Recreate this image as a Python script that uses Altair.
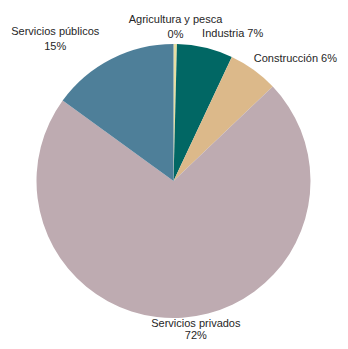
import altair as alt
import pandas as pd
import math

categories = ["Agricultura y pesca", "Industria", "Construcción", "Servicios privados", "Servicios públicos"]
values = [0.4, 6.6, 5.9, 72.1, 15.0]
labels = [["Agricultura y pesca", "0%"], ["Industria 7%"], ["Construcción 6%"], ["Servicios privados", "72%"], ["Servicios públicos", "15%"]]
colors = ["#E6DFA3", "#016764", "#DCB98A", "#BEABB1", "#4E7F99"]

df = pd.DataFrame({"cat": categories, "val": values, "order": list(range(len(categories))),
                   "label": labels})

CX, CY = 165.5, 173

pie = alt.Chart(df).mark_arc(outerRadius=137, x=CX, y=CY).encode(
    theta=alt.Theta("val:Q", stack=True),
    order=alt.Order("order:Q"),
    color=alt.Color("cat:N", scale=alt.Scale(domain=categories, range=colors), legend=None)
)

text_base = alt.Chart(df).transform_window(
    cum="sum(val)", sort=[alt.SortField("order")], frame=[None, 0]
).transform_joinaggregate(
    total="sum(val)"
).transform_calculate(
    mid="(datum.cum - datum.val / 2) / datum.total"
)

offsets = {
    "Agricultura y pesca": (0, -4, 15),
    "Industria": (23, 6, 15),
    "Construcción": (30, 5, 15),
    "Servicios privados": (12, -14, 12.5),
    "Servicios públicos": (-47, -9, 15),
}

layers = [pie]
for cat, (dx, dy, lh) in offsets.items():
    t = text_base.transform_filter(alt.datum.cat == cat).mark_text(
        radius=157, x=CX, y=CY, font="Liberation Sans", fontSize=11,
        color="#262626", lineHeight=lh, align="center", baseline="middle",
        dx=dx, dy=dy
    ).encode(
        theta=alt.Theta("mid:Q", stack=None, scale=alt.Scale(domain=[0, 1], range=[0, 2 * math.pi])),
        text="label"
    )
    layers.append(t)

chart = alt.layer(*layers).resolve_scale(theta="independent").properties(
    width=332, height=333, autosize=alt.AutoSizeParams(type="none"), padding=0
).configure_view(stroke=None)

chart.save("out.html", embed_options={"renderer": "svg", "actions": False})
